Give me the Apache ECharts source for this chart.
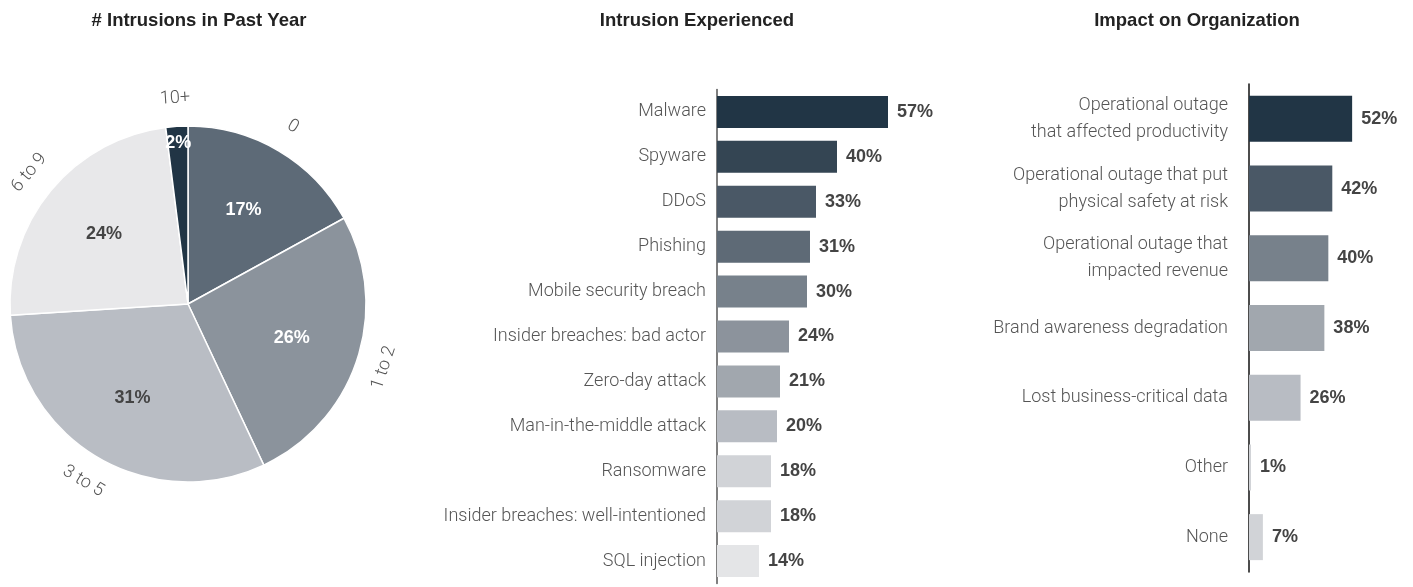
<!DOCTYPE html>
<html>
<head>
<meta charset="utf-8">
<script src="https://cdn.jsdelivr.net/npm/echarts@6/dist/echarts.min.js"></script>
<style>
html,body{margin:0;padding:0;background:#fff;}
#main{width:1413px;height:587px;}
</style>
</head>
<body>
<div id="main"></div>
<script>
// ---- Data ----
const pieCategories = ['0', '1 to 2', '3 to 5', '6 to 9', '10+'];
const pieValues = [17, 26, 31, 24, 2];

const intrusionCategories = ['Malware', 'Spyware', 'DDoS', 'Phishing', 'Mobile security breach',
  'Insider breaches: bad actor', 'Zero-day attack', 'Man-in-the-middle attack', 'Ransomware',
  'Insider breaches: well-intentioned', 'SQL injection'];
const intrusionValues = [57, 40, 33, 31, 30, 24, 21, 20, 18, 18, 14];

const impactCategories = ['Operational outage\nthat affected productivity',
  'Operational outage that put\nphysical safety at risk',
  'Operational outage that\nimpacted revenue',
  'Brand awareness degradation', 'Lost business-critical data', 'Other', 'None'];
const impactValues = [52, 42, 40, 38, 26, 1, 7];

const titles = ['# Intrusions in Past Year', 'Intrusion Experienced', 'Impact on Organization'];

// ---- Styles ----
const pieColors = ['#5d6a77', '#8b939c', '#b9bdc4', '#e8e8ea', '#213545'];
const pieLabelColors = ['#ffffff', '#ffffff', '#444444', '#444444', '#ffffff'];
const intrusionColors = ['#213545', '#344553', '#4a5866', '#5e6a76', '#77818b', '#8c939c',
  '#a1a7ae', '#b8bcc3', '#d1d3d7', '#d1d3d7', '#e4e5e7'];
const impactColors = ['#213545', '#4a5866', '#77818b', '#a1a7ae', '#b8bcc3', '#d1d3d7', '#d1d3d7'];

const catFont = { fontFamily: 'Roboto', fontWeight: 300, fontSize: 18, color: '#555555' };
const valFont = { fontFamily: 'Liberation Sans', fontWeight: 'bold', fontSize: 18, color: '#444444' };

const chart = echarts.init(document.getElementById('main'), null, { renderer: 'canvas' });

const pieCenter = [188, 304];
const pieR = 178;

const option = {
  animation: false,
  backgroundColor: '#ffffff',
  title: titles.map((t, i) => ({
    text: t,
    left: [194, 692, 1192][i],
    top: 6,
    textAlign: 'center',
    textStyle: { fontFamily: 'Liberation Sans', fontWeight: 'bold', fontSize: 18.5, color: '#222222' }
  })),
  grid: [
    { left: 717, top: 89.5, width: 300, height: 494, containLabel: false },
    { left: 1249, top: 84, width: 119, height: 488, containLabel: false }
  ],
  xAxis: [
    { type: 'value', gridIndex: 0, min: 0, max: 100, show: false },
    { type: 'value', gridIndex: 1, min: 0, max: 60, show: false }
  ],
  yAxis: [
    {
      type: 'category', gridIndex: 0, data: intrusionCategories, inverse: true,
      axisLine: { show: true, lineStyle: { color: '#555555', width: 1.5 } },
      axisTick: { show: false },
      axisLabel: Object.assign({ margin: 11 }, catFont)
    },
    {
      type: 'category', gridIndex: 1, data: impactCategories, inverse: true,
      axisLine: { show: true, lineStyle: { color: '#111111', width: 1.5 } },
      axisTick: { show: false },
      axisLabel: Object.assign({ margin: 21, lineHeight: 27, align: 'right' }, catFont)
    }
  ],
  series: [
    {
      type: 'pie',
      center: pieCenter,
      radius: [0, pieR],
      startAngle: 90,
      clockwise: true,
      silent: true,
      label: { show: false },
      labelLine: { show: false },
      itemStyle: { borderColor: '#ffffff', borderWidth: 1.5 },
      data: pieCategories.map((c, i) => ({ name: c, value: pieValues[i], itemStyle: { color: pieColors[i] } }))
    },
    {
      // percent labels
      type: 'pie',
      center: pieCenter,
      radius: [34, pieR],
      startAngle: 90,
      clockwise: true,
      silent: true,
      z: 3,
      itemStyle: { color: 'rgba(0,0,0,0)', borderWidth: 0 },
      label: {
        show: true, position: 'inside', formatter: '{c}%',
        fontFamily: 'Liberation Sans', fontWeight: 'bold', fontSize: 18
      },
      labelLine: { show: false },
      labelLayout: function (p) {
        if (p.dataIndex === 4) return { dx: -3, dy: -52 };
        return {};
      },
      data: pieCategories.map((c, i) => ({ name: c, value: pieValues[i], label: { color: pieLabelColors[i] } }))
    },
    {
      // category labels outside
      type: 'pie',
      center: pieCenter,
      radius: [192, 214],
      startAngle: 90,
      clockwise: true,
      silent: true,
      z: 3,
      itemStyle: { color: 'rgba(0,0,0,0)', borderWidth: 0 },
      label: {
        show: true, position: 'inside', formatter: '{b}', rotate: 'tangential',
        fontFamily: 'Roboto', fontWeight: 300, fontSize: 18, color: '#555555'
      },
      labelLine: { show: false },
      data: pieCategories.map((c, i) => ({ name: c, value: pieValues[i] }))
    },
    {
      type: 'bar',
      xAxisIndex: 0, yAxisIndex: 0,
      barWidth: 32,
      silent: true,
      data: intrusionValues.map((v, i) => ({ value: v, itemStyle: { color: intrusionColors[i] } })),
      label: Object.assign({ show: true, position: 'right', distance: 9, formatter: '{c}%' }, valFont)
    },
    {
      type: 'bar',
      xAxisIndex: 1, yAxisIndex: 1,
      barWidth: 46,
      silent: true,
      data: impactValues.map((v, i) => ({ value: v, itemStyle: { color: impactColors[i] } })),
      label: Object.assign({ show: true, position: 'right', distance: 9, formatter: '{c}%' }, valFont)
    }
  ]
};

chart.setOption(option);
</script>
</body>
</html>
